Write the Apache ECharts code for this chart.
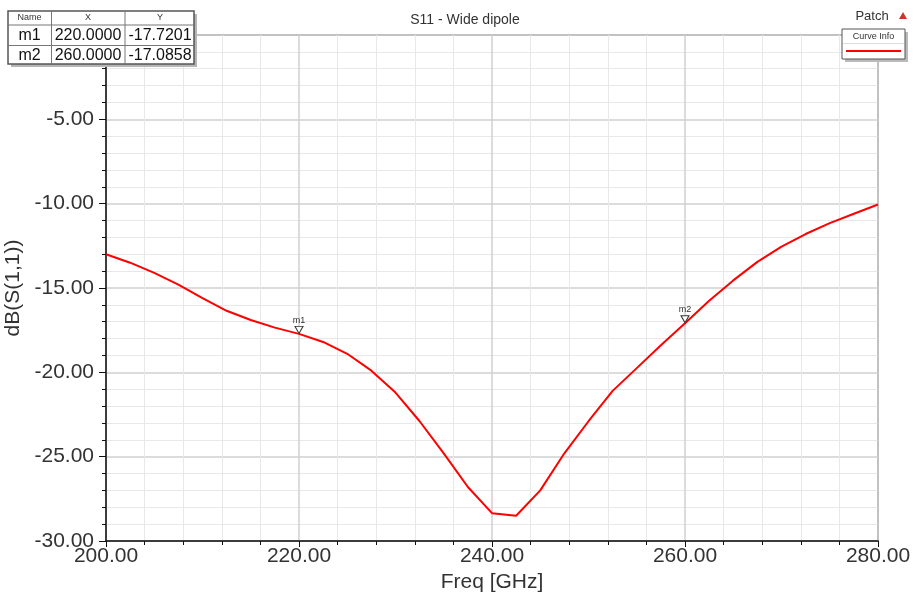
<!DOCTYPE html>
<html>
<head>
<meta charset="utf-8">
<script src="https://cdn.jsdelivr.net/npm/echarts@6/dist/echarts.min.js"></script>
<style>
  html, body { margin: 0; padding: 0; background: #fff; }
  #main { width: 916px; height: 599px; }
</style>
</head>
<body>
<div id="main"></div>
<script>
// sweep points (GHz / dB)
var freq = [200, 202.5, 205, 207.5, 210, 212.5, 215, 217.5, 220, 222.5, 225, 227.5, 230, 232.5, 235, 237.5,
  240, 242.5, 245, 247.5, 250, 252.5, 255, 257.5, 260, 262.5, 265, 267.5, 270, 272.5, 275, 277.5, 280];
var s11 = [-13.0, -13.5, -14.1, -14.8, -15.6, -16.35, -16.9, -17.35, -17.72, -18.2, -18.9, -19.9, -21.2, -22.9, -24.8, -26.8,
  -28.35, -28.5, -27.0, -24.8, -22.9, -21.1, -19.75, -18.4, -17.09, -15.75, -14.55, -13.45, -12.55, -11.8, -11.15, -10.6, -10.05];

// markers
var markerNames = ['m1', 'm2'];
var markerX = [220, 260];
var markerY = [-17.7201, -17.0858];

var chart = echarts.init(document.getElementById('main'));
var font = 'Liberation Sans, Arial, sans-serif';

var lineData = [];
for (var i = 0; i < freq.length; i++) {
  lineData.push([freq[i], s11[i]]);
}
var markData = [];
for (var k = 0; k < markerNames.length; k++) {
  markData.push({name: markerNames[k], coord: [markerX[k], markerY[k]]});
}

// marker table (top-left)
var tbl = [];
var colX = [29.5, 88, 160];
tbl.push({type: 'rect', shape: {x: 11, y: 14, width: 186, height: 53}, style: {fill: '#b5b5b5'}, z: 100});
tbl.push({type: 'rect', shape: {x: 8, y: 11, width: 186, height: 53}, style: {fill: '#fff', stroke: '#555', lineWidth: 1.5}, z: 101});
tbl.push({type: 'line', shape: {x1: 8, y1: 25, x2: 194, y2: 25}, style: {stroke: '#777', lineWidth: 1}, z: 102});
tbl.push({type: 'line', shape: {x1: 8, y1: 45.5, x2: 194, y2: 45.5}, style: {stroke: '#777', lineWidth: 1}, z: 102});
tbl.push({type: 'line', shape: {x1: 51.5, y1: 11, x2: 51.5, y2: 64}, style: {stroke: '#777', lineWidth: 1}, z: 102});
tbl.push({type: 'line', shape: {x1: 125, y1: 11, x2: 125, y2: 64}, style: {stroke: '#777', lineWidth: 1}, z: 102});
var heads = ['Name', 'X', 'Y'];
for (var h = 0; h < heads.length; h++) {
  tbl.push({type: 'text', x: colX[h], y: 18, z: 103,
    style: {text: heads[h], font: '9px ' + font, fill: '#333', align: 'center', verticalAlign: 'middle'}});
}
for (var r = 0; r < markerNames.length; r++) {
  var cells = [markerNames[r], markerX[r].toFixed(4), markerY[r].toFixed(4)];
  for (var c = 0; c < cells.length; c++) {
    tbl.push({type: 'text', x: colX[c], y: 36 + r * 20, z: 103,
      style: {text: cells[c], font: '16px ' + font, fill: '#111', align: 'center', verticalAlign: 'middle'}});
  }
}

// curve info box (top-right)
var info = [
  {type: 'text', x: 872, y: 16, z: 100, style: {text: 'Patch', font: '13px ' + font, fill: '#333', align: 'center', verticalAlign: 'middle'}},
  {type: 'polygon', shape: {points: [[899, 19], [907, 19], [903, 12]]}, style: {fill: '#c0392b'}, z: 100},
  {type: 'rect', shape: {x: 845, y: 32, width: 63, height: 30}, style: {fill: '#bbb'}, z: 100},
  {type: 'rect', shape: {x: 842, y: 29, width: 63, height: 30}, style: {fill: '#fff', stroke: '#555', lineWidth: 1}, z: 101},
  {type: 'text', x: 873.5, y: 37, z: 102, style: {text: 'Curve Info', font: '9px ' + font, fill: '#333', align: 'center', verticalAlign: 'middle'}},
  {type: 'line', shape: {x1: 843, y1: 43.5, x2: 904, y2: 43.5}, style: {stroke: '#ddd', lineWidth: 1}, z: 102},
  {type: 'line', shape: {x1: 846, y1: 51, x2: 901, y2: 51}, style: {stroke: '#ff0000', lineWidth: 2}, z: 102}
];

var option = {
  backgroundColor: '#fff',
  animation: false,
  title: {
    text: 'S11 - Wide dipole',
    left: 460, top: 8,
    textAlign: 'center',
    textStyle: {fontFamily: font, fontSize: 14, fontWeight: 'normal', color: '#333'}
  },
  grid: {
    left: 106, right: 38, top: 35, bottom: 58,
    containLabel: false,
    outerBoundsMode: 'none',
    show: true, borderColor: '#777', borderWidth: 1.5, backgroundColor: '#fff'
  },
  xAxis: {
    type: 'value',
    min: 200, max: 280, interval: 20,
    name: 'Freq [GHz]',
    nameLocation: 'middle',
    nameGap: 28,
    nameTextStyle: {fontFamily: font, fontSize: 21, color: '#333'},
    axisLine: {onZero: false, lineStyle: {color: '#111', width: 1.5}},
    axisTick: {length: 6, lineStyle: {color: '#111'}},
    minorTick: {show: true, splitNumber: 5, length: 4, lineStyle: {color: '#111'}},
    axisLabel: {margin: 5, fontFamily: font, fontSize: 21, color: '#333',
      formatter: function (v) { return v.toFixed(2); }},
    splitLine: {show: true, lineStyle: {color: '#d0d0d0', width: 1.5}},
    minorSplitLine: {show: true, lineStyle: {color: '#e8e8e8', width: 1}}
  },
  yAxis: {
    type: 'value',
    min: -30, max: 0, interval: 5,
    name: 'dB(S(1,1))',
    nameLocation: 'middle',
    nameGap: 74,
    nameTextStyle: {fontFamily: font, fontSize: 21, color: '#333'},
    axisLine: {onZero: false, lineStyle: {color: '#111', width: 1.5}},
    axisTick: {length: 7, lineStyle: {color: '#111'}},
    minorTick: {show: true, splitNumber: 5, length: 4, lineStyle: {color: '#111'}},
    axisLabel: {margin: 12, fontFamily: font, fontSize: 21, color: '#333',
      formatter: function (v) { return v.toFixed(2); }},
    splitLine: {show: true, lineStyle: {color: '#d0d0d0', width: 1.5}},
    minorSplitLine: {show: true, lineStyle: {color: '#e8e8e8', width: 1}}
  },
  series: [{
    type: 'line',
    data: lineData,
    showSymbol: false,
    lineStyle: {color: '#ff0000', width: 2},
    itemStyle: {color: '#ff0000'},
    markPoint: {
      symbol: 'triangle',
      symbolSize: [8, 7],
      symbolRotate: 180,
      symbolOffset: [0, -4],
      itemStyle: {color: '#fff', borderColor: '#333', borderWidth: 1},
      label: {show: true, position: 'top', distance: 1, formatter: '{b}',
        fontFamily: font, fontSize: 9, color: '#333'},
      data: markData
    }
  }],
  graphic: tbl.concat(info)
};

chart.setOption(option);
</script>
</body>
</html>
